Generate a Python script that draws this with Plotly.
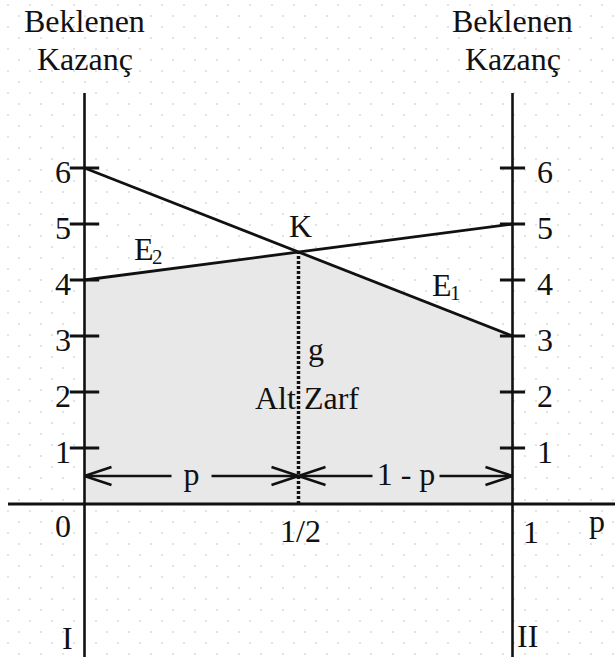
import numpy as np
import plotly.graph_objects as go

# ---------------- data ----------------
p_ends = [0, 1]                 # p at strategy I and strategy II
E1 = [6, 3]                     # expected payoff line E1 at p=0 and p=1
E2 = [4, 5]                     # expected payoff line E2 at p=0 and p=1
y_tick_vals = [1, 2, 3, 4, 5, 6]
y_tick_text = ["1", "2", "3", "4", "5", "6"]
x_tick_vals = [0, 0.5, 1]
x_tick_text = ["0", "1/2", "1"]
arrow_level = 0.5               # height of the p / 1-p arrows
y_title_lines = ["Beklenen", "Kazanç"]
strategy_labels = ["I", "II"]
line_names = [("E", "1"), ("E", "2")]

# ---------------- derived ----------------
s1 = (E1[1] - E1[0]) / (p_ends[1] - p_ends[0])
s2 = (E2[1] - E2[0]) / (p_ends[1] - p_ends[0])
pK = (E2[0] - E1[0]) / (s1 - s2)
yK = E1[0] + s1 * pK
env_x = [p_ends[0], p_ends[0], pK, p_ends[1], p_ends[1]]
env_y = [0, min(E1[0], E2[0]), yK, min(E1[1], E2[1]), 0]

# ---------------- layout geometry (style) ----------------
W, H = 615, 657
X0_PX, PX_PER_P = 84.5, 428.0
Y0_PX, PX_PER_Y = 504.0, 56.0
x_range = [-X0_PX / PX_PER_P, (W - X0_PX) / PX_PER_P]
y_range = [-(H - Y0_PX) / PX_PER_Y, Y0_PX / PX_PER_Y]


def dx(px):
    return px / PX_PER_P


def dy(px):
    return px / PX_PER_Y


def at_x(px):
    return (px - X0_PX) / PX_PER_P


def at_y(px):
    return (Y0_PX - px) / PX_PER_Y


FONT = "Liberation Serif"
FS = 32
FS_SUB = 21
BLACK = "#111111"
FILL = "#e8e8e8"

fig = go.Figure()

# lower envelope (Alt Zarf) shading
fig.add_trace(go.Scatter(x=env_x, y=env_y, fill="toself", fillcolor=FILL,
                         mode="lines", line=dict(width=0), hoverinfo="skip"))
# E1, E2
fig.add_trace(go.Scatter(x=p_ends, y=E1, mode="lines",
                         line=dict(color=BLACK, width=2.8), hoverinfo="skip"))
fig.add_trace(go.Scatter(x=p_ends, y=E2, mode="lines",
                         line=dict(color=BLACK, width=2.8), hoverinfo="skip"))
# dotted vertical from K down to axis
fig.add_trace(go.Scatter(x=[pK, pK], y=[0, yK], mode="lines",
                         line=dict(color=BLACK, width=3.5, dash="3px,2px"),
                         hoverinfo="skip"))
# arrow shafts
fig.add_trace(go.Scatter(x=[p_ends[0], p_ends[1]], y=[arrow_level, arrow_level],
                         mode="lines", line=dict(color=BLACK, width=2.6),
                         hoverinfo="skip"))
# chevron arrow heads
L, HH = dx(27), dy(9)
tips = [(p_ends[0], -1), (pK, 1), (pK, -1), (p_ends[1], 1)]
cx, cy = [], []
for xt, d in tips:
    cx += [xt - d * L, xt, xt - d * L, None]
    cy += [arrow_level + HH, arrow_level, arrow_level - HH, None]
fig.add_trace(go.Scatter(x=cx, y=cy, mode="lines",
                         line=dict(color=BLACK, width=2.6), hoverinfo="skip"))
# tick marks on both vertical axes
for xa, sz in [(p_ends[0], 21), (p_ends[1], 18)]:
    fig.add_trace(go.Scatter(x=[xa] * len(y_tick_vals), y=y_tick_vals, mode="markers",
                             marker=dict(symbol="line-ew", size=sz,
                                         line=dict(color=BLACK, width=3)),
                             hoverinfo="skip"))
# dummy trace for second grid axis
fig.add_trace(go.Scatter(x=[None], y=[None], xaxis="x2", hoverinfo="skip"))

# axis lines
top = at_y(93)
for xa in p_ends:
    fig.add_shape(type="line", x0=xa, x1=xa, y0=y_range[0] - 1, y1=top,
                  line=dict(color=BLACK, width=2.6))
fig.add_shape(type="line", x0=at_x(8), x1=x_range[1] + 0.1, y0=0, y1=0,
              line=dict(color=BLACK, width=2.8))

ann = []


def A(text, x, y, size=FS, **kw):
    d = dict(text=text, x=x, y=y, xref="x", yref="y", showarrow=False,
             font=dict(family=FONT, size=size, color=BLACK))
    d.update(kw)
    ann.append(d)


# y tick labels
for v, t in zip(y_tick_vals, y_tick_text):
    A(t, p_ends[0], v, xanchor="right", xshift=-12, yshift=-4)
    A(t, p_ends[1], v, xanchor="left", xshift=22, yshift=-4)
# x tick labels
A(x_tick_text[0], x_tick_vals[0], 0, xshift=-22, yshift=-22)
A(x_tick_text[1], x_tick_vals[1], 0, xshift=2, yshift=-27)
A(x_tick_text[2], x_tick_vals[2], 0, xshift=18, yshift=-28)
A("p", at_x(597), 0, yshift=-17)
# axis titles (two lines each)
for xa in p_ends:
    A(y_title_lines[0], xa, at_y(21), borderpad=0)
    A(y_title_lines[1], xa, at_y(59), borderpad=0)
# strategy labels
A(strategy_labels[0], at_x(67), at_y(638))
A(strategy_labels[1], at_x(527), at_y(636))
# point labels
A("K", pK, yK, yshift=26, xshift=2)
for (base, sub), (lx, ly) in zip(line_names, [(at_x(451), at_y(285)),
                                              (at_x(153), at_y(249))]):
    A(base, lx, ly, xanchor="right", xshift=2, borderpad=0)
    A(sub, lx, ly, size=FS_SUB, xanchor="left", xshift=-2, yshift=-8, borderpad=0)
A("g", pK, yK, xanchor="left", xshift=7, yshift=-97)
A("Alt Zarf", pK, yK, xshift=8, yshift=-146)
# arrow labels
A("p", (p_ends[0] + pK) / 2, arrow_level, width=37, bgcolor=FILL, borderpad=1,
  yshift=2)
A("1 - p", (pK + p_ends[1]) / 2, arrow_level, width=64, bgcolor=FILL, borderpad=1,
  yshift=2)

step = dx(22)
fig.update_layout(
    width=W, height=H, autosize=False,
    margin=dict(l=0, r=0, t=0, b=0),
    paper_bgcolor="white", plot_bgcolor="white",
    showlegend=False,
    font=dict(family=FONT, size=FS, color=BLACK),
    xaxis=dict(range=x_range, showticklabels=False, zeroline=False, showline=False,
               showgrid=True, tick0=at_x(184), dtick=step, ticks="",
               gridcolor="#e3e3e3", gridwidth=2.2, griddash="0px,4px,2px,16px",
               fixedrange=True),
    xaxis2=dict(range=x_range, overlaying="x", showticklabels=False, zeroline=False,
                showline=False, showgrid=True, tick0=at_x(173), dtick=step,
                ticks="", gridcolor="#e3e3e3", gridwidth=2.2,
                griddash="0px,15px,2px,5px", fixedrange=True),
    yaxis=dict(range=y_range, showticklabels=False, zeroline=False, showline=False,
               showgrid=False, fixedrange=True),
    annotations=ann,
)

fig.write_html("out.html", config={"displayModeBar": False},
               post_script="document.body.style.margin='0px';")
